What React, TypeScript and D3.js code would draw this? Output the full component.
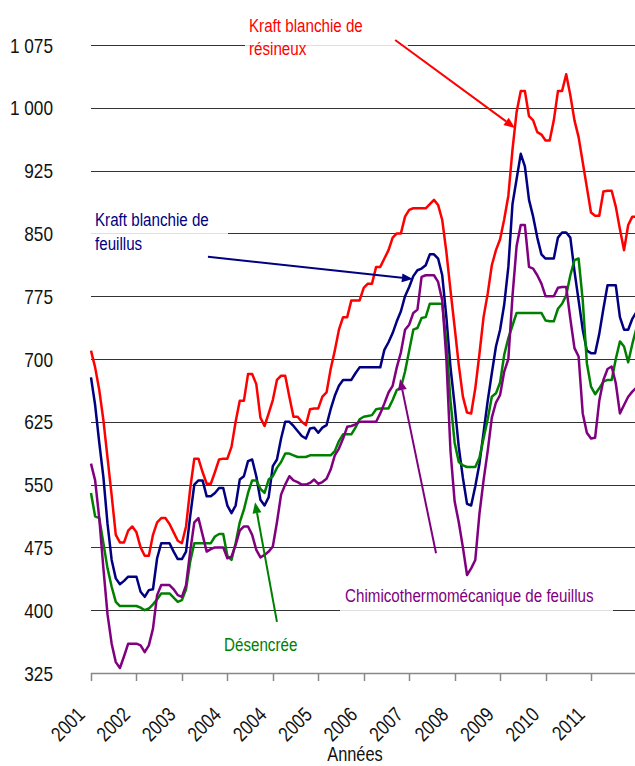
import React from 'react';
import * as d3 from 'd3';

// Monthly prices, first point ~ April 2001, ticks every 11 months
const tickLabels = ['2001', '2002', '2003', '2004', '2004', '2005', '2006', '2007', '2008', '2009', '2010', '2011'];
const tickEvery = 11;
const yTicks = [325, 400, 475, 550, 625, 700, 775, 850, 925, 1000, 1075];

const resineux = [
  710, 690, 663, 627, 582, 537, 490, 481, 481, 495, 500, 493, 475, 465, 465, 490, 505, 510, 510, 503,
  493, 483, 480, 500, 545, 581, 581, 565, 551, 551, 565, 580, 581, 581, 595, 625, 650, 650, 682, 682,
  670, 630, 620, 635, 651, 675, 680, 680, 655, 631, 631, 625, 621, 640, 641, 641, 655, 660, 688, 710,
  735, 750, 750, 770, 770, 770, 785, 790, 790, 810, 810, 820, 830, 845, 850, 850, 870, 878, 880, 880,
  880, 880, 885, 890, 884, 866, 828, 782, 738, 693, 655, 636, 635, 665, 706, 750, 778, 812, 830, 843,
  867, 895, 950, 995, 1020, 1020, 990, 985, 971, 968, 961, 961, 985, 1020, 1020, 1040, 1015, 985, 965, 935,
  905, 875, 871, 871, 900, 901, 901, 882, 855, 830, 860, 870, 870,
];

const feuillus = [
  678, 645, 600, 559, 503, 460, 438, 431, 435, 440, 440, 440, 422, 416, 424, 425, 462, 480, 480, 480,
  470, 461, 461, 470, 512, 550, 555, 555, 536, 536, 540, 546, 546, 525, 516, 525, 556, 560, 578, 580,
  560, 532, 525, 535, 572, 580, 605, 625, 625, 620, 614, 608, 605, 617, 618, 612, 618, 621, 640, 656,
  668, 675, 675, 675, 683, 690, 690, 690, 690, 690, 690, 711, 720, 731, 745, 757, 775, 786, 799, 806,
  808, 812, 825, 825, 820, 800, 750, 690, 645, 595, 558, 527, 525, 548, 575, 612, 650, 683, 715, 735,
  765, 810, 885, 915, 945, 930, 890, 870, 845, 825, 820, 820, 820, 845, 851, 851, 845, 805, 770, 735,
  710, 707, 707, 730, 760, 788, 788, 788, 750, 735, 735, 748, 756,
];

const desencree = [
  540, 512, 510, 480, 450, 428, 410, 405, 405, 405, 405, 405, 403, 400, 402, 407, 413, 420, 420, 420,
  415, 410, 412, 425, 458, 480, 480, 480, 480, 480, 488, 491, 491, 465, 460, 480, 505, 520, 540, 555,
  555, 545, 540, 556, 560, 570, 577, 587, 587, 585, 583, 583, 583, 585, 585, 585, 585, 585, 585, 590,
  602, 610, 610, 610, 618, 628, 631, 632, 633, 640, 641, 641, 641, 651, 663, 666, 685, 710, 735, 737,
  749, 750, 766, 766, 766, 766, 720, 650, 600, 577, 573, 571, 571, 571, 582, 605, 628, 655, 659, 672,
  705, 725, 740, 755, 755, 755, 755, 755, 755, 755, 746, 745, 745, 760, 766, 776, 800, 818, 820, 770,
  695, 667, 658, 665, 673, 675, 675, 700, 721, 715, 696, 718, 737,
];

const ctmp = [
  575, 555, 510, 450, 395, 360, 338, 331, 345, 360, 360, 360, 358, 350, 358, 378, 418, 430, 430, 430,
  425, 418, 416, 430, 470, 505, 510, 490, 470, 473, 475, 475, 475, 462, 464, 478, 495, 500, 500, 490,
  472, 463, 466, 470, 476, 505, 538, 550, 560, 555, 553, 550, 550, 552, 556, 551, 553, 557, 568, 585,
  593, 605, 619, 620, 622, 625, 625, 625, 625, 625, 635, 647, 660, 668, 690, 708, 735, 741, 755, 759,
  798, 800, 800, 800, 792, 770, 700, 590, 530, 505, 475, 442, 450, 460, 515, 555, 590, 630, 648, 657,
  685, 700, 775, 835, 860, 860, 810, 808, 800, 790, 775, 775, 775, 785, 786, 786, 748, 713, 703, 635,
  612, 605, 606, 650, 675, 688, 691, 671, 635, 645, 655, 661, 666,
];

const RED = '#FF0000';
const NAVY = '#000080';
const GREEN = '#008000';
const PURPLE = '#800080';
const FONT = "'Liberation Sans', Arial, sans-serif";
const NARROW = 0.82;

const W = 635;
const H = 766;

const x = d3.scaleLinear().domain([0, 121]).range([91, 591]);
const y = d3.scaleLinear().domain([325, 1075]).range([673, 45]);

const fr = d3.formatLocale({ decimal: ',', thousands: ' ', grouping: [3], currency: ['', ' €'] });
const fmt = fr.format(',');

const line = d3
  .line<number>()
  .x((_, i) => x(i))
  .y((d) => y(d));

type Arrow = { from: [number, number]; to: [number, number]; color: string };
// arrow endpoints in data space: [month index, price]
const arrows: Arrow[] = [
  { from: [73.6, 1081], to: [102.6, 976], color: RED },
  { from: [28.3, 822], to: [77.9, 795.5], color: NAVY },
  { from: [83.5, 468], to: [74.8, 676], color: PURPLE },
  { from: [45, 386], to: [39.7, 529], color: GREEN },
];

function ArrowMark({ a }: { a: Arrow }) {
  const x1 = x(a.from[0]);
  const y1 = y(a.from[1]);
  const x2 = x(a.to[0]);
  const y2 = y(a.to[1]);
  const ang = Math.atan2(y2 - y1, x2 - x1);
  const L = 11;
  const Wd = 4.5;
  const bx = x2 - L * Math.cos(ang);
  const by = y2 - L * Math.sin(ang);
  const px = -Math.sin(ang);
  const py = Math.cos(ang);
  const pts = `${x2},${y2} ${bx + px * Wd},${by + py * Wd} ${bx - px * Wd},${by - py * Wd}`;
  return (
    <g>
      <line x1={x1} y1={y1} x2={bx} y2={by} stroke={a.color} strokeWidth={2} />
      <polygon points={pts} fill={a.color} />
    </g>
  );
}

function NText({
  x: tx,
  y: ty,
  size,
  color,
  anchor = 'start',
  rotate = 0,
  children,
}: {
  x: number;
  y: number;
  size: number;
  color: string;
  anchor?: string;
  rotate?: number;
  children: React.ReactNode;
}) {
  return (
    <text
      transform={`translate(${tx},${ty}) rotate(${rotate}) scale(${NARROW},1)`}
      fontSize={size}
      fill={color}
      textAnchor={anchor}
    >
      {children}
    </text>
  );
}

export default function App() {
  const series = [
    { data: resineux, color: RED },
    { data: feuillus, color: NAVY },
    { data: desencree, color: GREEN },
    { data: ctmp, color: PURPLE },
  ];
  const ticks = tickLabels.map((t, k) => ({ t, i: k * tickEvery }));
  return (
    <svg
      width={W}
      height={H}
      style={{ position: 'absolute', left: 0, top: 0, background: '#fff' }}
      fontFamily={FONT}
    >
      <rect x={0} y={0} width={W} height={H} fill="#fff" />
      {yTicks.slice(1).map((v) => (
        <line key={v} x1={91} x2={W} y1={Math.round(y(v)) + 0.5} y2={Math.round(y(v)) + 0.5} stroke="#333" strokeWidth={1} />
      ))}
      {/* x axis */}
      <line x1={91} x2={W} y1={673.5} y2={673.5} stroke="#888" strokeWidth={1.5} />
      {ticks.map((tk) => (
        <line key={'t' + tk.i} x1={Math.round(x(tk.i)) + 0.5} x2={Math.round(x(tk.i)) + 0.5} y1={673} y2={681} stroke="#888" strokeWidth={1.5} />
      ))}
      {ticks.map((tk) => (
        <NText key={'l' + tk.i} x={x(tk.i) - 5} y={716} size={20.5} color="#111" anchor="end" rotate={-45}>
          {tk.t}
        </NText>
      ))}
      {yTicks.map((v) => (
        <NText key={'y' + v} x={53} y={y(v) + 7.5} size={21} color="#111" anchor="end">
          {fmt(v)}
        </NText>
      ))}
      <NText x={355} y={761} size={20} color="#111" anchor="middle">
        Années
      </NText>

      {/* annotation boxes */}
      <rect x={245} y={10} width={163} height={53} fill="#fff" opacity={0.85} />
      <rect x={89} y={205} width={139} height={78} fill="#fff" opacity={0.85} />
      <rect x={340} y={582} width={273} height={55} fill="#fff" opacity={0.85} />
      <rect x={218} y={628} width={114} height={30} fill="#fff" opacity={0.85} />

      {series.map((s, k) => (
        <path key={k} d={line(s.data) || ''} fill="none" stroke={s.color} strokeWidth={2.5} strokeLinejoin="round" />
      ))}

      {arrows.map((a, k) => (
        <ArrowMark key={k} a={a} />
      ))}

      <NText x={249} y={32} size={18.5} color={RED}>Kraft blanchie de</NText>
      <NText x={249} y={55} size={18.5} color={RED}>résineux</NText>
      <NText x={95} y={226} size={18.5} color={NAVY}>Kraft blanchie de</NText>
      <NText x={95} y={250} size={18.5} color={NAVY}>feuillus</NText>
      <NText x={345} y={602} size={18.5} color={PURPLE}>Chimicothermomécanique de feuillus</NText>
      <NText x={224} y={651} size={18.5} color={GREEN}>Désencrée</NText>
    </svg>
  );
}
